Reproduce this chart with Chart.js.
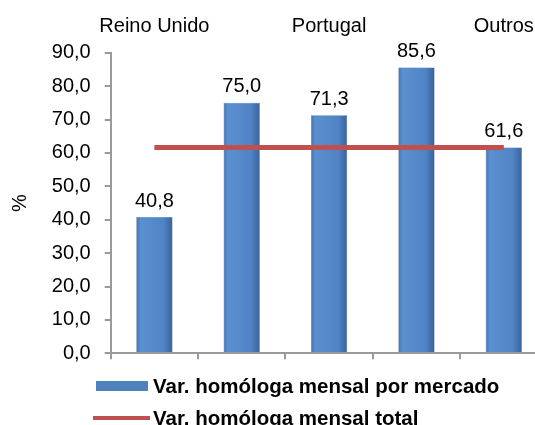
<!doctype html>
<html>
<head>
<meta charset="utf-8">
<title>Var. homóloga mensal</title>
<script src="https://cdn.jsdelivr.net/npm/chart.js@4.4.1/dist/chart.umd.min.js"></script>
<style>
  body { margin: 0; overflow: hidden; background: #fff; }
  #wrap { position: relative; width: 550px; height: 425px; }
  .leg { position: absolute; font: bold 20.5px "Liberation Sans", Arial, sans-serif; line-height: 24px; color: #000; white-space: nowrap; }
  .sw { position: absolute; }
</style>
</head>
<body>
<div id="wrap">
  <canvas id="canvas"></canvas>
  <div id="legend"></div>
</div>
<script>
// data
var categories = ['Reino Unido', 'Alemanha', 'Portugal', 'França', 'Outros'];
var mercado = [40.8, 75.0, 71.3, 85.6, 61.6];
var total = [61.6, 61.6, 61.6, 61.6, 61.6];
var yTicks = [0, 10, 20, 30, 40, 50, 60, 70, 80, 90];
var seriesNames = ['Var. homóloga mensal por mercado', 'Var. homóloga mensal total'];

var FONT = '"Liberation Sans", Arial, sans-serif';
Chart.defaults.font.family = FONT;
Chart.defaults.color = '#000';

function fmt(v) {
    return v.toFixed(1).replace('.', ',');
}

// bevel-ish shading on each bar
function barFill(ctx) {
    var chart = ctx.chart;
    var xs = chart.scales.x;
    if (!chart.chartArea || !xs || ctx.dataIndex === undefined) return '#4F81BD';
    var cx = xs.getPixelForValue(ctx.dataIndex);
    var half = (xs.width / categories.length) * 0.415 / 2;
    var g = chart.ctx.createLinearGradient(cx - half, 0, cx + half, 0);
    g.addColorStop(0, '#4574b0');
    g.addColorStop(0.12, '#5a8fd0');
    g.addColorStop(0.75, '#5084c6');
    g.addColorStop(1, '#3a6298');
    return g;
}

// value labels above the bars (bar dataset is index 1)
var valueLabels = {
    id: 'valueLabels',
    afterDatasetsDraw: function(chart) {
        var ctx = chart.ctx;
        var meta = chart.getDatasetMeta(1);
        ctx.save();
        ctx.font = '20px ' + FONT;
        ctx.fillStyle = '#000';
        ctx.textAlign = 'center';
        ctx.textBaseline = 'middle';
        meta.data.forEach(function(bar, i) {
            ctx.fillText(fmt(mercado[i]), bar.x, bar.y - 16);
        });
        ctx.restore();
    }
};

var axisGrey = '#9a9a9a';

var config = {
    data: {
        labels: categories,
        datasets: [{
            type: 'line',
            label: seriesNames[1],
            data: total,
            xAxisID: 'x',
            borderColor: '#C0504D',
            borderWidth: 5,
            borderCapStyle: 'butt',
            pointRadius: 0,
            fill: false,
            order: 0
        }, {
            type: 'bar',
            label: seriesNames[0],
            data: mercado,
            xAxisID: 'x',
            backgroundColor: barFill,
            borderColor: '#3d669c',
            borderWidth: 0.5,
            categoryPercentage: 1,
            barPercentage: 0.415,
            order: 1
        }]
    },
    options: {
        responsive: true,
        maintainAspectRatio: false,
        animation: false,
        layout: { padding: { left: 0, top: 0, right: 2.5, bottom: 0 } },
        plugins: {
            legend: { display: false },
            tooltip: { enabled: false }
        },
        scales: {
            x: {
                type: 'category',
                position: 'bottom',
                offset: true,
                ticks: { display: false },
                grid: { drawOnChartArea: false, drawTicks: true, tickLength: 6, color: axisGrey, lineWidth: 2 },
                border: { color: axisGrey, width: 2 },
                afterFit: function(s) { s.height = 71.7; }
            },
            x2: {
                type: 'category',
                position: 'top',
                offset: true,
                grid: { display: false, drawTicks: false },
                border: { display: false },
                ticks: {
                    autoSkip: false,
                    maxRotation: 0,
                    padding: 14,
                    font: { size: 20 },
                    callback: function(val, i) {
                        return i % 2 === 0 ? categories[i] : '';
                    }
                },
                afterFit: function(s) { s.height = 52.7; }
            },
            y: {
                min: yTicks[0],
                max: yTicks[yTicks.length - 1],
                afterBuildTicks: function(s) {
                    s.ticks = yTicks.map(function(v) { return { value: v }; });
                },
                ticks: {
                    padding: 14,
                    font: { size: 20 },
                    callback: function(v) { return fmt(v); }
                },
                grid: { drawOnChartArea: false, tickLength: 6, color: axisGrey, lineWidth: 2 },
                border: { color: axisGrey, width: 2 },
                title: { display: true, text: '%', font: { size: 20 }, padding: { top: 8, bottom: 0 } },
                afterFit: function(s) { s.width = 110.7; }
            }
        }
    },
    plugins: [valueLabels]
};

window.myChart = new Chart(document.getElementById('canvas'), config);

// legend, laid out like the original (left aligned, stacked)
var legend = document.getElementById('legend');
var rows = [
    { name: seriesNames[0], color: '#4F81BD', sw: [96, 381, 52, 10], top: 374 },
    { name: seriesNames[1], color: '#C0504D', sw: [93, 416, 57, 4], top: 406 }
];
rows.forEach(function(r) {
    var s = document.createElement('div');
    s.className = 'sw';
    s.style.left = r.sw[0] + 'px';
    s.style.top = r.sw[1] + 'px';
    s.style.width = r.sw[2] + 'px';
    s.style.height = r.sw[3] + 'px';
    s.style.background = r.color;
    legend.appendChild(s);
    var t = document.createElement('div');
    t.className = 'leg';
    t.style.left = '153px';
    t.style.top = r.top + 'px';
    t.textContent = r.name;
    legend.appendChild(t);
});
</script>
</body>
</html>
